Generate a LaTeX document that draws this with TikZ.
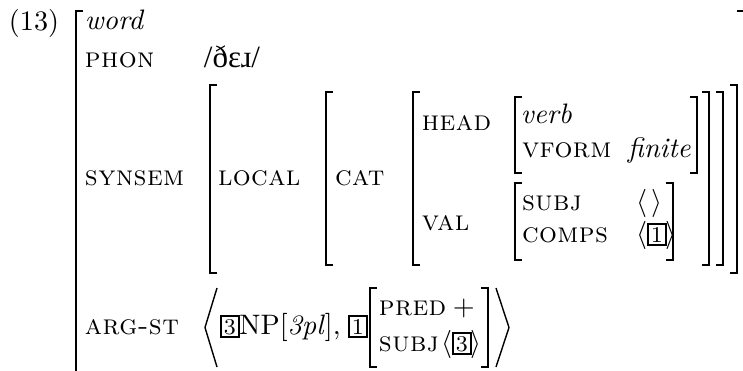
\documentclass[tikz,border=0pt]{standalone}
\usepackage{fontspec}
\newfontfamily\ipafont[Scale=1.1]{Liberation Serif}
\newfontfamily\attrfont[Scale=1.0,LetterSpace=1.5]{lmromancaps10-regular.otf}
% opening and closing square brackets of an attribute-value matrix
\newcommand\avmL[3]{\draw[brk] (#1+7,#2) -- (#1,#2) -- (#1,#3) -- (#1+7,#3);}
\newcommand\avmR[3]{\draw[brk] (#1-7,#2) -- (#1,#2) -- (#1,#3) -- (#1-7,#3);}
\begin{document}
\begin{tikzpicture}[x=0.355pt,y=-0.355pt,
  every node/.style={inner sep=0pt, outer sep=0pt, anchor=base west},
  attr/.style={font=\attrfont},
  val/.style={font=\itshape},
  brk/.style={line width=0.75pt},
  angle/.style={line width=0.5pt},
  tagbox/.style={draw, line width=0.7pt, inner sep=1pt, font=\footnotesize, anchor=base west}]
\useasboundingbox (0,0) rectangle (743,370);

% example number
\node (num) at (9,30) {(13)};

% outermost matrix
\avmL{76}{11}{372}
\draw[brk] (737,11) -- (745,11);
\node[val] (word) at (85,29) {word};
\node[attr] (phon) at (85,67) {phon};
\node (phonval) at (204,67) {\ipafont /ðɛɹ/};
\node[attr] (synsem) at (85,185) {synsem};
\node[attr] (argst) at (85,334) {arg-st};

% SYNSEM value
\avmL{210}{85}{273}
\avmR{737}{85}{273}
\node[attr] (local) at (218,185) {local};

% LOCAL value
\avmL{326}{92}{265}
\avmR{723}{92}{265}
\node[attr] (cat) at (335,185) {cat};

% CAT value
\avmL{413}{92}{265}
\avmR{709}{92}{265}
\node[attr] (head) at (422,130) {head};
\node[attr] (valf) at (422,230) {val};

% HEAD value
\avmL{515}{97}{173}
\avmR{697}{97}{173}
\node[val] (verb) at (521,123) {verb};
\node[attr] (vform) at (522,157) {vform};
\node[val] (finite) at (628,157) {finite};

% VAL value
\avmL{515}{183}{260}
\avmR{673}{183}{260}
\node[attr] (subj) at (522,210) {subj};
\node (subjval) at (637,210) {$\langle\mkern2mu\rangle$};
\node[attr] (comps) at (522,242) {comps};
\node (lc) at (637,242) {$\langle$};
\node[tagbox] (t1a) at (lc.base east) {1};
\node (rc) at (t1a.base east) {$\rangle$};

% ARG-ST list
\draw[angle] (217,288) -- (205,327.5) -- (217,367);
\draw[angle] (496,288) -- (509,327.5) -- (496,367);
\node[tagbox] (t3a) at (221,334) {3};
\node (np) at ([xshift=0.3pt]t3a.base east) {NP[\textit{3pl}],};
\node[tagbox] (t1b) at (349,334) {1};
\avmL{370}{288}{367}
\avmR{488}{288}{367}
\node[attr] (pred) at (379,315) {pred};
\node (plus) at (453,315) {$+$};
\node[attr] (subj2) at (379,351) {subj};
\node (ls) at (442,351) {$\langle$};
\node[tagbox] (t3b) at (ls.base east) {3};
\node (rs) at (t3b.base east) {$\rangle$};
\end{tikzpicture}
\end{document}
